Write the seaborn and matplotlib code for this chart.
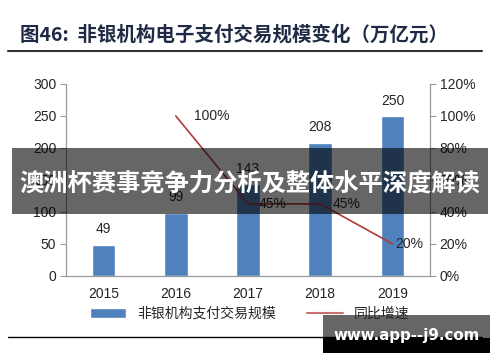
import matplotlib
matplotlib.use("Agg")
import matplotlib.pyplot as plt
import seaborn as sns
import pandas as pd
from matplotlib.patches import Rectangle
from matplotlib.lines import Line2D

# data
years = ["2015", "2016", "2017", "2018", "2019"]
volume = [49, 99, 143, 208, 250]           # 万亿元
growth_years = ["2016", "2017", "2018", "2019"]
growth = [100, 45, 45, 20]                 # %

sns.set_theme(style="white")
plt.rcParams["font.family"] = ["Liberation Sans", "Noto Sans CJK SC", "DejaVu Sans"]

fig = plt.figure(figsize=(5, 3.62), dpi=100)
ax = fig.add_axes([0.132, 0.238, 0.728, 0.530])

df = pd.DataFrame({"year": years, "volume": volume})
sns.barplot(data=df, x="year", y="volume", color="#4F81BD", width=0.33,
            saturation=1, ax=ax, label="非银机构支付交易规模")
ax.bar_label(ax.containers[0], labels=[str(v) for v in volume], padding=6, fontsize=10)
ax.set_ylim(0, 300)
ax.set_yticks(range(0, 301, 50))
ax.set_xlim(-0.52, 4.52)
ax.set_xlabel("")
ax.set_ylabel("")

ax2 = ax.twinx()
gdf = pd.DataFrame({"x": [years.index(y) for y in growth_years], "g": growth})
sns.lineplot(data=gdf, x="x", y="g", color="#B03A3A", lw=1.2, ax=ax2, label="同比增速")
# label offsets (points) as placed in the original
label_dx = [13, 8, 9, 2]
for xi, g, dx in zip(gdf["x"], growth, label_dx):
    ax2.annotate(f"{g}%", (xi, g), xytext=(dx, 0),
                 textcoords="offset points", ha="left", va="center", fontsize=10)
ax2.set_ylim(0, 120)
ax2.set_yticks(range(0, 121, 20))
ax2.set_yticklabels([f"{t}%" for t in range(0, 121, 20)])
ax2.set_ylabel("")
ax2.set_xlabel("")

for a in (ax, ax2):
    a.spines["top"].set_visible(False)
    for s in a.spines.values():
        s.set_color("#999999")
        s.set_linewidth(0.8)
    a.tick_params(axis="y", labelsize=10, length=4, width=0.8, color="#999999", pad=3)
    a.tick_params(axis="x", labelsize=10, length=0, pad=8)
ax.tick_params(left=True)
ax2.tick_params(right=True)

h1, l1 = ax.get_legend_handles_labels()
h2, l2 = ax2.get_legend_handles_labels()
for a in (ax, ax2):
    if a.get_legend():
        a.get_legend().remove()
h2 = [Line2D([], [], color="#C87070", lw=1.5)]
fig.legend(h1 + h2, l1 + l2, loc="center", bbox_to_anchor=(0.5, 0.133), ncol=2,
           frameon=False, handlelength=2.6, columnspacing=2.2,
           prop={"family": ["Noto Sans CJK SC"], "size": 10})

# title and rules
fig.text(0.04, 0.903, "图46:  非银机构电子支付交易规模变化（万亿元）", fontsize=14,
         fontweight="bold", color="#1F2A44", va="center", ha="left",
         family=["Noto Sans CJK SC", "DejaVu Sans"])
fig.add_artist(Line2D([0.016, 0.964], [0.859, 0.859], color="#333333", lw=1.5))
fig.add_artist(Line2D([0.016, 0.964], [0.069, 0.069], color="black", lw=1.0))

# overlay banner
fig.add_artist(Rectangle((0.024, 0.409), 0.952, 0.182, transform=fig.transFigure,
                         color="black", alpha=0.6, lw=0))
fig.text(0.5, 0.492, "澳洲杯赛事竞争力分析及整体水平深度解读", fontsize=17.5,
         fontweight="bold", color="white", ha="center", va="center",
         family=["Noto Sans CJK SC"])

# watermark
fig.add_artist(Rectangle((0.646, 0.025), 0.334, 0.105, transform=fig.transFigure,
                         color="#666666", lw=0))
fig.add_artist(Rectangle((0.646, 0.025), 0.334, 0.040, transform=fig.transFigure,
                         color="black", lw=0))
fig.text(0.813, 0.072, "www.app--j9.com", fontsize=10.8, fontweight="bold",
         color="white", ha="center", va="center", family=["DejaVu Sans"])

fig.savefig("out.png", dpi=100)
